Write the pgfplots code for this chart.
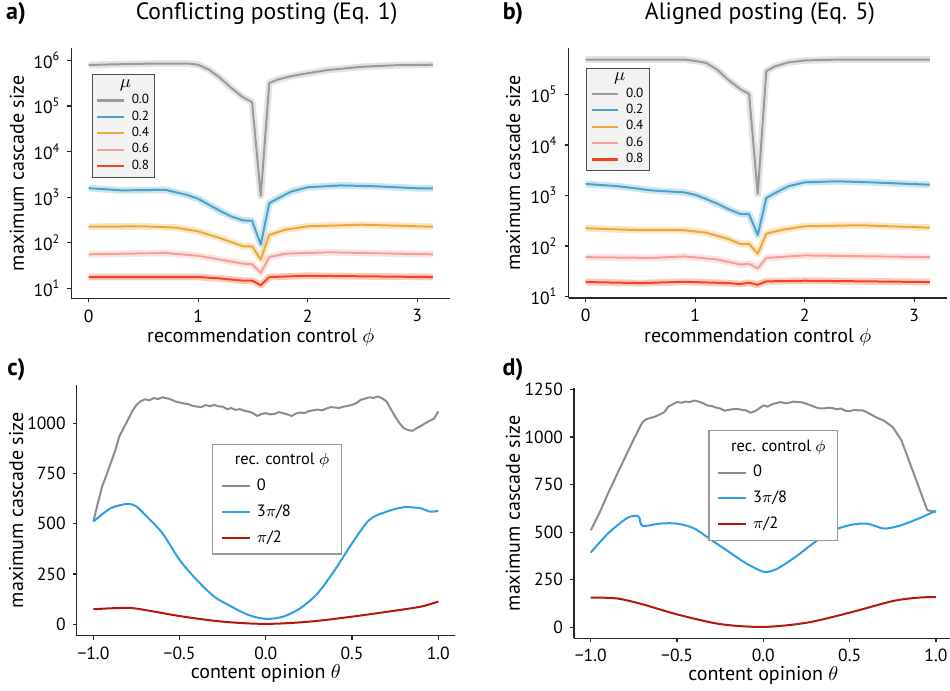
\documentclass[border=0pt]{standalone}
\usepackage{pgfplots}
\pgfplotsset{compat=1.18}
\usepackage{pgfplotstable}
\usepackage{fontspec}
\setmainfont{PT Sans}

\definecolor{cgray}{HTML}{9A9A9A}
\definecolor{cblue}{HTML}{4AA3C7}
\definecolor{corange}{HTML}{E8A93A}
\definecolor{cpink}{HTML}{F2A09A}
\definecolor{cred}{HTML}{F0461A}
\definecolor{dgray}{HTML}{8C8C8C}
\definecolor{dblue}{HTML}{2C9FE6}
\definecolor{dred}{HTML}{B2160E}

% ---------- panel a ----------
\pgfplotstableread{
x y
0 790000
0.3 820000
0.6 850000
0.9 850000
1.0 800000
1.1 620000
1.2 410000
1.3 250000
1.4 160000
1.492 120000
1.571 1070
1.649 320000
1.73 380000
1.85 450000
2.0 520000
2.2 620000
2.5 720000
2.8 780000
3.1416 800000
}\aGray
\pgfplotstableread{
x y
0 1580
0.3 1410
0.7 1450
0.9 1120
1.0 920
1.1 680
1.2 500
1.3 380
1.41 310
1.492 305
1.571 92
1.649 740
1.73 950
1.85 1330
2.0 1650
2.3 1810
2.6 1740
3.0 1570
3.1416 1570
}\aBlue
\pgfplotstableread{
x y
0 225
0.5 230
0.8 215
1.0 178
1.2 127
1.41 84
1.492 84
1.571 43
1.649 150
1.8 195
2.0 230
2.5 250
3.1416 225
}\aOrange
\pgfplotstableread{
x y
0 56
0.7 60
1.0 52
1.2 43
1.41 35
1.492 34
1.571 22
1.649 49
1.8 58
2.2 62
3.1416 56
}\aPink
\pgfplotstableread{
x y
0 17.8
1.0 17.8
1.2 16.6
1.41 14.8
1.492 14.8
1.571 11.8
1.649 17.8
2.0 19
3.1416 17.8
}\aRed
% ---------- panel b ----------
\pgfplotstableread{
x y
0 490000
0.9 490000
1.0 460000
1.1 420000
1.2 310000
1.3 196000
1.41 128000
1.492 102000
1.571 1070
1.649 290000
1.73 360000
1.85 430000
2.0 470000
2.3 490000
3.1416 490000
}\bGray
\pgfplotstableread{
x y
0 1690
0.3 1520
0.6 1260
0.9 1150
1.0 1030
1.1 850
1.2 690
1.3 540
1.41 430
1.492 425
1.571 165
1.649 890
1.73 1120
1.85 1520
2.0 1820
2.3 1910
2.6 1820
3.1416 1630
}\bBlue
\pgfplotstableread{
x y
0 225
0.5 205
0.9 205
1.1 183
1.3 138
1.41 110
1.492 110
1.571 70
1.649 175
1.8 210
2.0 245
2.5 257
3.1416 230
}\bOrange
\pgfplotstableread{
x y
0 60
0.6 58
0.9 62
1.2 54
1.41 43
1.492 44
1.571 36
1.649 58
2.0 65
3.1416 60
}\bPink
\pgfplotstableread{
x y
0 19.3
0.5 18.4
0.9 19.5
1.3 18.4
1.41 17.6
1.492 18.8
1.571 17
1.649 19.9
2.0 20.5
3.1416 19.3
}\bRed
% ---------- panel c ----------
\pgfplotstableread{
x y
-1.0 511
-0.975 600
-0.95 685
-0.925 740
-0.9 801
-0.875 860
-0.85 934
-0.825 975
-0.8 1017
-0.775 1060
-0.75 1091
-0.725 1110
-0.7 1119
-0.675 1114
-0.65 1125
-0.625 1120
-0.6 1129
-0.575 1124
-0.55 1118
-0.525 1108
-0.5 1103
-0.475 1098
-0.45 1095
-0.425 1086
-0.4 1083
-0.375 1080
-0.35 1090
-0.325 1085
-0.3 1091
-0.275 1084
-0.25 1082
-0.225 1070
-0.2 1075
-0.175 1066
-0.15 1070
-0.125 1062
-0.1 1058
-0.075 1050
-0.05 1036
-0.025 1046
0.0 1050
0.025 1044
0.05 1046
0.075 1055
0.1 1050
0.125 1044
0.15 1036
0.175 1048
0.2 1053
0.225 1050
0.25 1060
0.275 1064
0.3 1068
0.325 1064
0.35 1072
0.375 1080
0.4 1078
0.425 1076
0.45 1082
0.475 1086
0.5 1091
0.525 1100
0.55 1116
0.575 1122
0.6 1129
0.625 1126
0.65 1133
0.675 1124
0.7 1108
0.725 1070
0.75 1033
0.775 1000
0.8 975
0.825 966
0.85 962
0.875 975
0.9 987
0.925 1000
0.95 1012
0.975 1022
1.0 1058
}\cGray
\pgfplotstableread{
x y
-1.0 511
-0.9 577
-0.8 599
-0.75 585
-0.7 544
-0.6 453
-0.5 320
-0.4 220
-0.3 138
-0.2 88
-0.1 46
0.0 27
0.1 38
0.2 80
0.3 154
0.4 270
0.5 403
0.6 519
0.7 560
0.8 582
0.9 577
0.95 560
1.0 564
}\cBlue
\pgfplotstableread{
x y
-1.0 75
-0.85 81
-0.75 78
-0.5 41
-0.25 13
0.0 2
0.25 13
0.5 38
0.75 68
0.9 88
1.0 113
}\cRed
% ---------- panel d ----------
\pgfplotstableread{
x y
-1.0 510
-0.95 600
-0.9 703
-0.85 800
-0.8 895
-0.75 990
-0.7 1079
-0.675 1095
-0.65 1101
-0.625 1108
-0.6 1119
-0.575 1130
-0.55 1160
-0.525 1172
-0.5 1184
-0.475 1180
-0.45 1186
-0.425 1184
-0.4 1192
-0.375 1186
-0.35 1178
-0.325 1166
-0.3 1163
-0.275 1155
-0.25 1150
-0.225 1138
-0.2 1143
-0.175 1146
-0.15 1148
-0.125 1143
-0.1 1140
-0.075 1128
-0.05 1135
-0.025 1150
0.0 1166
0.025 1160
0.05 1172
0.075 1178
0.1 1184
0.125 1178
0.15 1180
0.175 1186
0.2 1184
0.225 1182
0.25 1175
0.275 1166
0.3 1157
0.325 1150
0.35 1150
0.375 1154
0.4 1152
0.425 1146
0.45 1150
0.475 1138
0.5 1136
0.525 1142
0.55 1140
0.575 1140
0.6 1130
0.625 1118
0.65 1105
0.7 1085
0.75 1052
0.8 983
0.85 860
0.9 738
0.95 615
1.0 607
}\dGray
\pgfplotstableread{
x y
-1.0 393
-0.9 493
-0.8 568
-0.75 586
-0.72 580
-0.7 533
-0.6 545
-0.5 545
-0.4 519
-0.3 458
-0.2 397
-0.1 336
0.0 292
0.05 297
0.1 318
0.2 379
0.3 449
0.4 507
0.5 537
0.6 545
0.7 519
0.8 537
0.9 572
1.0 612
}\dBlue
\pgfplotstableread{
x y
-1.0 156
-0.85 152
-0.7 121
-0.5 68
-0.25 17
0.0 2
0.25 24
0.5 77
0.75 138
0.9 156
1.0 159
}\dRed

\pgfplotsset{
  myBase/.style={
    scale only axis,
    axis lines*=left,
    axis line style={-, black!85, line width=0.6pt},
    tick align=outside,
    tick style={black!85, line width=0.6pt},
    major tick length=2pt,
    tick label style={font=\fontsize{8.8}{10}\selectfont},
    label style={font=\fontsize{9}{11}\selectfont},
    /pgf/number format/assume math mode=true,
    /pgf/number format/1000 sep={},
  },
  myLogLeg/.style={
    legend cell align=left,
    legend style={fill=black!5, draw=black!70, line width=0.5pt,
      font=\fontsize{6.6}{7.5}\selectfont, row sep=0.2pt, column sep=2.5pt,
      inner xsep=2pt, inner ysep=1.5pt,
      nodes={inner sep=0.9pt, text depth=0.15em}},
  },
  myLinLeg/.style={
    legend cell align=left,
    legend style={fill=white, draw=black!40, line width=0.6pt,
      font=\fontsize{8.2}{10}\selectfont, row sep=1.5pt, column sep=1pt,
      inner xsep=4pt, inner ysep=2.5pt,
      nodes={inner sep=2pt, text depth=0.15em}},
  },
}
\tikzset{
  myBand/.style={line width=3.4pt, opacity=0.28, line join=round},
  myMain/.style={line width=1pt, line join=round},
}

\begin{document}
\begin{tikzpicture}
\useasboundingbox (0,0) rectangle (475pt,345.5pt);

% titles and panel labels
\node[font=\bfseries\fontsize{12}{14}\selectfont] at (8pt,338.75pt) {a)};
\node[font=\fontsize{11.8}{14}\selectfont] at (133.3pt,338.75pt) {Conflicting posting (Eq. 1)};
\node[font=\bfseries\fontsize{12}{14}\selectfont] at (256.5pt,338.75pt) {b)};
\node[font=\fontsize{11.8}{14}\selectfont] at (380pt,338.75pt) {Aligned posting (Eq. 5)};
\node[font=\bfseries\fontsize{12}{14}\selectfont] at (8.25pt,160.5pt) {c)};
\node[font=\bfseries\fontsize{12}{14}\selectfont] at (256.5pt,160.5pt) {d)};

% ---------------- a ----------------
\begin{axis}[myBase, myLogLeg,
  ymode=log, log basis y=10, yminorticks=false,
  xmin=-0.157, xmax=3.299, xtick={0,1,2,3},
  ylabel={maximum cascade size},
  xlabel={recommendation control $\phi$},
  legend image code/.code={\draw[#1, line width=1.1pt] (0cm,0cm) -- (0.47cm,0cm);},
  at={(35.75pt,196.25pt)}, anchor=south west,
  width=189.25pt, height=125.25pt,
  ymin=6.03, ymax=1.86e6,
  ytick={10,100,1000,10000,100000,1000000},
  yticklabels={10\textsuperscript{1},10\textsuperscript{2},10\textsuperscript{3},10\textsuperscript{4},10\textsuperscript{5},10\textsuperscript{6}},
  every axis y label/.style={at={(axis description cs:-0.144,0.5)}, rotate=90, anchor=center},
  every axis x label/.style={at={(axis description cs:0.5,-0.154)}, anchor=center},
  legend style={at={(axis description cs:0.053,0.895)}, anchor=north west},
]
\addlegendimage{empty legend}
\addlegendentry{\hspace*{-6pt}{\fontsize{9.5}{10}\selectfont$\mu$}}
\addplot[myBand, cgray, forget plot] table {\aGray};
\addplot[myMain, cgray] table {\aGray};
\addlegendentry{0.0}
\addplot[myBand, cblue, forget plot] table {\aBlue};
\addplot[myMain, cblue] table {\aBlue};
\addlegendentry{0.2}
\addplot[myBand, corange, forget plot] table {\aOrange};
\addplot[myMain, corange] table {\aOrange};
\addlegendentry{0.4}
\addplot[myBand, cpink, forget plot] table {\aPink};
\addplot[myMain, cpink] table {\aPink};
\addlegendentry{0.6}
\addplot[myBand, cred, forget plot] table {\aRed};
\addplot[myMain, cred] table {\aRed};
\addlegendentry{0.8}
\end{axis}

% ---------------- b ----------------
\begin{axis}[myBase, myLogLeg,
  ymode=log, log basis y=10, yminorticks=false,
  xmin=-0.157, xmax=3.299, xtick={0,1,2,3},
  ylabel={maximum cascade size},
  xlabel={recommendation control $\phi$},
  legend image code/.code={\draw[#1, line width=1.1pt] (0cm,0cm) -- (0.47cm,0cm);},
  at={(284.25pt,196.5pt)}, anchor=south west,
  width=189.25pt, height=125pt,
  ymin=9.33, ymax=8.3e5,
  ytick={10,100,1000,10000,100000},
  yticklabels={10\textsuperscript{1},10\textsuperscript{2},10\textsuperscript{3},10\textsuperscript{4},10\textsuperscript{5}},
  every axis y label/.style={at={(axis description cs:-0.146,0.5)}, rotate=90, anchor=center},
  every axis x label/.style={at={(axis description cs:0.5,-0.156)}, anchor=center},
  legend style={at={(axis description cs:0.046,0.921)}, anchor=north west},
]
\addlegendimage{empty legend}
\addlegendentry{\hspace*{-6pt}{\fontsize{9.5}{10}\selectfont$\mu$}}
\addplot[myBand, cgray, forget plot] table {\bGray};
\addplot[myMain, cgray] table {\bGray};
\addlegendentry{0.0}
\addplot[myBand, cblue, forget plot] table {\bBlue};
\addplot[myMain, cblue] table {\bBlue};
\addlegendentry{0.2}
\addplot[myBand, corange, forget plot] table {\bOrange};
\addplot[myMain, corange] table {\bOrange};
\addlegendentry{0.4}
\addplot[myBand, cpink, forget plot] table {\bPink};
\addplot[myMain, cpink] table {\bPink};
\addlegendentry{0.6}
\addplot[myBand, cred, forget plot] table {\bRed};
\addplot[myMain, cred] table {\bRed};
\addlegendentry{0.8}
\end{axis}

% ---------------- c ----------------
\begin{axis}[myBase, myLinLeg,
  xmin=-1.097, xmax=1.097,
  xtick={-1,-0.5,0,0.5,1},
  xticklabels={−1.0,−0.5,0.0,0.5,1.0},
  ylabel={maximum cascade size},
  xlabel={content opinion $\theta$},
  legend image code/.code={\draw[#1, line width=1.1pt] (0cm,0cm) -- (0.49cm,0cm);},
  at={(38.35pt,27.65pt)}, anchor=south west,
  width=189.15pt, height=125.35pt,
  ymin=-56.7, ymax=1190,
  ytick={0,250,500,750,1000},
  every axis y label/.style={at={(axis description cs:-0.160,0.5)}, rotate=90, anchor=center},
  every axis x label/.style={at={(axis description cs:0.5,-0.150)}, anchor=center},
  legend style={at={(axis description cs:0.358,0.765)}, anchor=north west},
]
\addlegendimage{empty legend}
\addlegendentry{\hspace*{-11pt}rec. control $\phi$}
\addplot[myMain, dgray] table {\cGray};
\addlegendentry{0}
\addplot[myMain, dblue, smooth] table {\cBlue};
\addlegendentry{3$\pi$/8}
\addplot[myMain, dred, smooth] table {\cRed};
\addlegendentry{$\pi$/2}
\end{axis}

% ---------------- d ----------------
\begin{axis}[myBase, myLinLeg,
  xmin=-1.097, xmax=1.097,
  xtick={-1,-0.5,0,0.5,1},
  xticklabels={−1.0,−0.5,0.0,0.5,1.0},
  ylabel={maximum cascade size},
  xlabel={content opinion $\theta$},
  legend image code/.code={\draw[#1, line width=1.1pt] (0cm,0cm) -- (0.49cm,0cm);},
  at={(287pt,26.35pt)}, anchor=south west,
  width=189.35pt, height=124.9pt,
  ymin=-57.7, ymax=1255,
  ytick={0,250,500,750,1000,1250},
  every axis y label/.style={at={(axis description cs:-0.161,0.5)}, rotate=90, anchor=center},
  every axis x label/.style={at={(axis description cs:0.5,-0.147)}, anchor=center},
  legend style={at={(axis description cs:0.355,0.833)}, anchor=north west},
]
\addlegendimage{empty legend}
\addlegendentry{\hspace*{-11pt}rec. control $\phi$}
\addplot[myMain, dgray] table {\dGray};
\addlegendentry{0}
\addplot[myMain, dblue, smooth] table {\dBlue};
\addlegendentry{3$\pi$/8}
\addplot[myMain, dred, smooth] table {\dRed};
\addlegendentry{$\pi$/2}
\end{axis}
\end{tikzpicture}
\end{document}
